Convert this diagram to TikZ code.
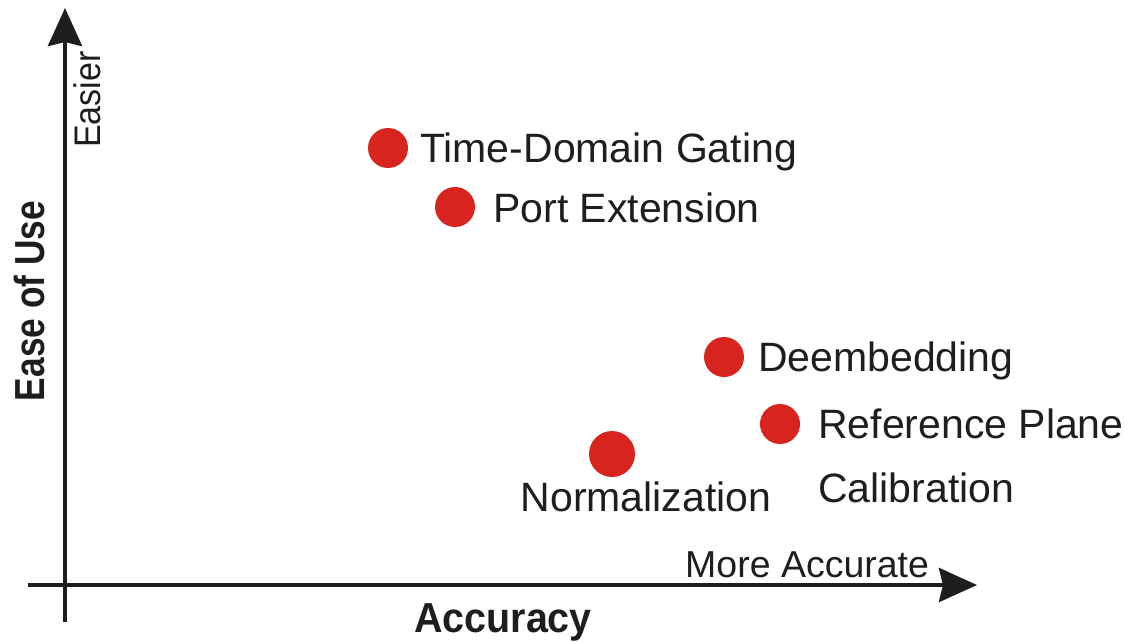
\documentclass[tikz,border=0pt]{standalone}
\usepackage{fontspec}
\setmainfont{Liberation Sans}
\newfontfamily\labelfont{Liberation Sans}
\newfontfamily\axisfont[FakeStretch=0.92]{Liberation Sans}
\newfontfamily\titlefont[FakeStretch=0.84]{Liberation Sans Bold}
\newfontfamily\widetitlefont[FakeStretch=0.94]{Liberation Sans Bold}
\usetikzlibrary{arrows.meta}
\definecolor{dotred}{RGB}{216,36,30}
\definecolor{ink}{RGB}{30,30,30}
\tikzset{
  axisline/.style={line width=4pt, draw=ink, -{Stealth[length=38pt,width=34pt,inset=4pt]}},
  dot/.style={circle, fill=dotred, inner sep=0pt, minimum size=40pt},
  bigdot/.style={dot, minimum size=46pt},
  itemlabel/.style={anchor=base west, inner sep=0pt, text=ink, font=\labelfont\fontsize{41}{48}\selectfont},
  axislabel/.style={inner sep=0pt, text=ink, font=\axisfont\fontsize{37}{44}\selectfont},
  axistitle/.style={inner sep=0pt, text=ink, font=\titlefont\fontsize{42}{50}\selectfont}
}
\begin{document}
\begin{tikzpicture}[x=1pt, y=-1pt]
  \useasboundingbox (0,0) rectangle (1125,642);

  % axes
  \coordinate (ybot) at (65,622);
  \coordinate (ytop) at (65,8);
  \coordinate (xleft) at (28,585);
  \coordinate (xright) at (977,585);
  \draw[axisline] (ybot) -- (ytop);
  \draw[axisline] (xleft) -- (xright);

  % axis texts
  \node[axistitle, rotate=90, anchor=base] (easeofuse) at (44,301) {Ease of Use};
  \node[axislabel, rotate=90, anchor=base west] (easier) at (100,148) {Easier};
  \node[axistitle, font=\widetitlefont\fontsize{42}{50}\selectfont, anchor=base] (accuracy) at (503,632) {Accuracy};
  \node[axislabel, font=\labelfont\fontsize{37.5}{44}\selectfont, anchor=base west] (moreacc) at (685,577) {More Accurate};

  % methods
  \node[dot] (tdg) at (388,148) {};
  \node[itemlabel] (tdglab) at (420,162) {Time-Domain Gating};

  \node[dot] (pe) at (455,207) {};
  \node[itemlabel] (pelab) at (493,222) {Port Extension};

  \node[dot] (de) at (724,357) {};
  \node[itemlabel] (delab) at (758,371) {Deembedding};

  \node[dot] (rp) at (780,424) {};
  \node[itemlabel] (rplab) at (818,438) {Reference Plane};
  \node[itemlabel] (callab) at (818,502) {Calibration};

  \node[bigdot] (norm) at (612,454) {};
  \node[itemlabel, anchor=base] (normlab) at (646,511) {Normalization};
\end{tikzpicture}
\end{document}
